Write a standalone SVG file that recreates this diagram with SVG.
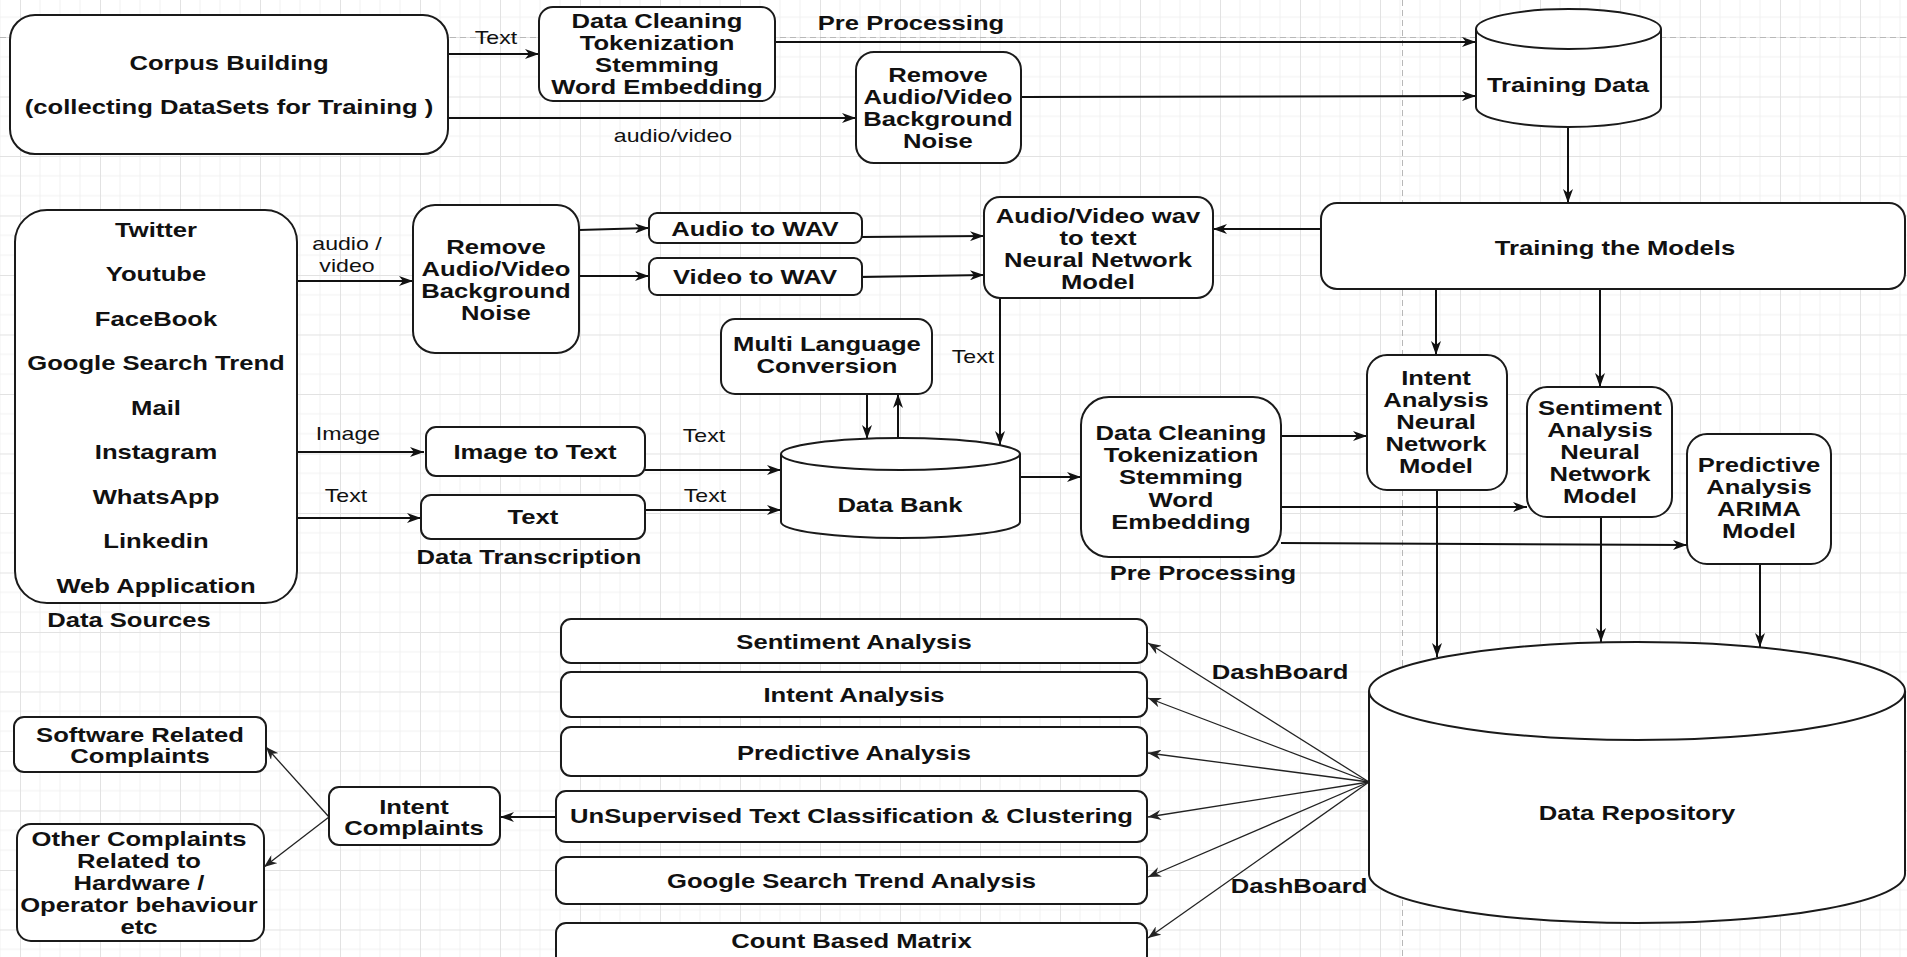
<svg xmlns="http://www.w3.org/2000/svg" width="1907" height="957" viewBox="0 0 1907 957">
<defs>
<style>
.bx{fill:#fff;stroke:#1a1a1a;stroke-width:2}
.ln{fill:none;stroke:#111;stroke-width:2;marker-end:url(#a)}
.ld{fill:none;stroke:#222;stroke-width:1.3;marker-end:url(#b)}
.t{font-family:"Liberation Sans",Arial,sans-serif;font-weight:bold;font-size:20.5px;text-anchor:middle;fill:#111}
.l{font-family:"Liberation Sans",Arial,sans-serif;font-size:18.5px;text-anchor:middle;fill:#111}
</style>
<marker id="a" markerWidth="14" markerHeight="10" refX="14" refY="5" orient="auto" markerUnits="userSpaceOnUse"><path d="M0,0 L14,5 L0,10 L4,5 z" fill="#111"/></marker>
<marker id="b" markerWidth="13" markerHeight="10" refX="13" refY="5" orient="auto" markerUnits="userSpaceOnUse"><path d="M0,0 L13,5 L0,10 L4,5 z" fill="#222"/></marker>
<pattern id="g" x="20" y="37" width="80" height="59.5" patternUnits="userSpaceOnUse">
<path d="M20,0V59.5M40,0V59.5M60,0V59.5M0,19.83H80M0,39.67H80" stroke="#f1f1f1" stroke-width="1" fill="none"/>
<path d="M0.5,0V59.5M0,0.5H80" stroke="#e2e2e2" stroke-width="1" fill="none"/>
</pattern>
</defs>
<rect width="1907" height="957" fill="#fff"/>
<rect width="1907" height="957" fill="url(#g)"/>
<path d="M0,37.5H1907M1402.5,0V957" stroke="#b8b8b8" stroke-width="1" stroke-dasharray="6 4" fill="none"/>

<g id="connectors">
<path class="ln" d="M448,54H539"/>
<path class="ln" d="M775,42H1476"/>
<path class="ln" d="M448,118H856"/>
<path class="ln" d="M1021,97L1476,96"/>
<path class="ln" d="M1568,127V203"/>
<path class="ln" d="M1321,229H1213"/>
<path class="ln" d="M297,281H413"/>
<path class="ln" d="M579,230L649,228"/>
<path class="ln" d="M579,276H649"/>
<path class="ln" d="M862,237L984,236"/>
<path class="ln" d="M862,277L984,275"/>
<path class="ln" d="M867,394V439"/>
<path class="ln" d="M898,439V394"/>
<path class="ln" d="M1000,298V445"/>
<path class="ln" d="M297,452H424"/>
<path class="ln" d="M645,470H781"/>
<path class="ln" d="M297,518H421"/>
<path class="ln" d="M645,510H781"/>
<path class="ln" d="M1020,477H1081"/>
<path class="ln" d="M1436,289V355"/>
<path class="ln" d="M1600,289V387"/>
<path class="ln" d="M1281,436H1367"/>
<path class="ln" d="M1281,507H1527"/>
<path class="ln" d="M1281,543L1687,545"/>
<path class="ln" d="M1437,490V657"/>
<path class="ln" d="M1601,517V642"/>
<path class="ln" d="M1760,564V647"/>
<path class="ld" d="M1369,782L1148,643"/>
<path class="ld" d="M1369,782L1148,698"/>
<path class="ld" d="M1369,782L1148,753"/>
<path class="ld" d="M1369,782L1148,817"/>
<path class="ld" d="M1369,782L1148,877"/>
<path class="ld" d="M1369,782L1148,938"/>
<path class="ln" d="M556,817H500"/>
<path class="ld" d="M329,817L266,747"/>
<path class="ld" d="M329,817L264,867"/>
<text class="l" transform="scale(1.25 1)" x="396.8" y="44">Text</text>
<text class="t" transform="scale(1.25 1)" x="728.8" y="30">Pre Processing</text>
<text class="l" transform="scale(1.25 1)" x="538.4" y="142">audio/video</text>
<text class="l" transform="scale(1.25 1)" x="277.6" y="250">audio /</text>
<text class="l" transform="scale(1.25 1)" x="277.6" y="272">video</text>
<text class="l" transform="scale(1.25 1)" x="778.4" y="363">Text</text>
<text class="l" transform="scale(1.25 1)" x="278.4" y="440">Image</text>
<text class="l" transform="scale(1.25 1)" x="563.2" y="442">Text</text>
<text class="l" transform="scale(1.25 1)" x="276.8" y="502">Text</text>
<text class="l" transform="scale(1.25 1)" x="564" y="502">Text</text>
<text class="t" transform="scale(1.25 1)" x="1024" y="679">DashBoard</text>
<text class="t" transform="scale(1.25 1)" x="1039.2" y="893">DashBoard</text>
</g>

<g id="corpus">
<rect class="bx" x="10" y="15" width="438" height="139" rx="25"/>
<text class="t" transform="scale(1.25 1)" x="183.2" y="70">Corpus Building</text>
<text class="t" transform="scale(1.25 1)" x="183.2" y="114">(collecting DataSets for Training )</text>
</g>
<g id="clean-top">
<rect class="bx" x="539" y="7" width="236" height="94" rx="14"/>
<text class="t" transform="scale(1.25 1)" x="525.6" y="28">Data Cleaning</text>
<text class="t" transform="scale(1.25 1)" x="525.6" y="50">Tokenization</text>
<text class="t" transform="scale(1.25 1)" x="525.6" y="72">Stemming</text>
<text class="t" transform="scale(1.25 1)" x="525.6" y="94">Word Embedding</text>
</g>
<g id="noise-top">
<rect class="bx" x="856" y="52" width="165" height="111" rx="18"/>
<text class="t" transform="scale(1.25 1)" x="750.4" y="82">Remove</text>
<text class="t" transform="scale(1.25 1)" x="750.4" y="104">Audio/Video</text>
<text class="t" transform="scale(1.25 1)" x="750.4" y="126">Background</text>
<text class="t" transform="scale(1.25 1)" x="750.4" y="148">Noise</text>
</g>
<g id="training-data">
<path class="bx" d="M1476,29V107A92.5,20 0 0 0 1661,107V29A92.5,20 0 0 0 1476,29Z"/>
<path d="M1476,29A92.5,20 0 0 0 1661,29" fill="none" stroke="#1a1a1a" stroke-width="2"/>
<text class="t" transform="scale(1.25 1)" x="1254.4" y="92">Training Data</text>
</g>
<g id="training-models">
<rect class="bx" x="1321" y="203" width="584" height="86" rx="16"/>
<text class="t" transform="scale(1.25 1)" x="1292" y="255">Training the Models</text>
</g>
<g id="av-model">
<rect class="bx" x="984" y="197" width="229" height="101" rx="16"/>
<text class="t" transform="scale(1.25 1)" x="878.4" y="223">Audio/Video wav</text>
<text class="t" transform="scale(1.25 1)" x="878.4" y="245">to text</text>
<text class="t" transform="scale(1.25 1)" x="878.4" y="267">Neural Network</text>
<text class="t" transform="scale(1.25 1)" x="878.4" y="289">Model</text>
</g>
<g id="data-sources">
<rect class="bx" x="15" y="210" width="282" height="393" rx="32"/>
<text class="t" transform="scale(1.25 1)" x="124.8" y="237">Twitter</text>
<text class="t" transform="scale(1.25 1)" x="124.8" y="281.5">Youtube</text>
<text class="t" transform="scale(1.25 1)" x="124.8" y="326">FaceBook</text>
<text class="t" transform="scale(1.25 1)" x="124.8" y="370.5">Google Search Trend</text>
<text class="t" transform="scale(1.25 1)" x="124.8" y="415">Mail</text>
<text class="t" transform="scale(1.25 1)" x="124.8" y="459.5">Instagram</text>
<text class="t" transform="scale(1.25 1)" x="124.8" y="504">WhatsApp</text>
<text class="t" transform="scale(1.25 1)" x="124.8" y="548.5">Linkedin</text>
<text class="t" transform="scale(1.25 1)" x="124.8" y="593">Web Application</text>
<text class="t" transform="scale(1.25 1)" x="103.2" y="627">Data Sources</text>
</g>
<g id="noise-mid">
<rect class="bx" x="413" y="205" width="166" height="148" rx="22"/>
<text class="t" transform="scale(1.25 1)" x="396.8" y="254">Remove</text>
<text class="t" transform="scale(1.25 1)" x="396.8" y="276">Audio/Video</text>
<text class="t" transform="scale(1.25 1)" x="396.8" y="298">Background</text>
<text class="t" transform="scale(1.25 1)" x="396.8" y="320">Noise</text>
</g>
<g id="audio-wav">
<rect class="bx" x="649" y="213" width="213" height="30" rx="8"/>
<text class="t" transform="scale(1.25 1)" x="604" y="236">Audio to WAV</text>
</g>
<g id="video-wav">
<rect class="bx" x="649" y="258" width="213" height="37" rx="8"/>
<text class="t" transform="scale(1.25 1)" x="604" y="284">Video to WAV</text>
</g>
<g id="multi-lang">
<rect class="bx" x="721" y="319" width="211" height="75" rx="14"/>
<text class="t" transform="scale(1.25 1)" x="661.6" y="351">Multi Language</text>
<text class="t" transform="scale(1.25 1)" x="661.6" y="373">Conversion</text>
</g>
<g id="data-bank">
<path class="bx" d="M781,454V522A119.5,16 0 0 0 1020,522V454A119.5,16 0 0 0 781,454Z"/>
<path d="M781,454A119.5,16 0 0 0 1020,454" fill="none" stroke="#1a1a1a" stroke-width="2"/>
<text class="t" transform="scale(1.25 1)" x="720" y="512">Data Bank</text>
</g>
<g id="image-text">
<rect class="bx" x="426" y="427" width="219" height="49" rx="10"/>
<text class="t" transform="scale(1.25 1)" x="428" y="459">Image to Text</text>
</g>
<g id="text-box">
<rect class="bx" x="421" y="495" width="224" height="44" rx="10"/>
<text class="t" transform="scale(1.25 1)" x="426.4" y="524">Text</text>
<text class="t" transform="scale(1.25 1)" x="423.2" y="564">Data Transcription</text>
</g>
<g id="clean-mid">
<rect class="bx" x="1081" y="397" width="200" height="160" rx="28"/>
<text class="t" transform="scale(1.25 1)" x="944.8" y="440">Data Cleaning</text>
<text class="t" transform="scale(1.25 1)" x="944.8" y="462">Tokenization</text>
<text class="t" transform="scale(1.25 1)" x="944.8" y="484">Stemming</text>
<text class="t" transform="scale(1.25 1)" x="944.8" y="507">Word</text>
<text class="t" transform="scale(1.25 1)" x="944.8" y="529">Embedding</text>
<text class="t" transform="scale(1.25 1)" x="962.4" y="580">Pre Processing</text>
</g>
<g id="intent-model">
<rect class="bx" x="1367" y="355" width="140" height="135" rx="20"/>
<text class="t" transform="scale(1.25 1)" x="1148.8" y="385">Intent</text>
<text class="t" transform="scale(1.25 1)" x="1148.8" y="407">Analysis</text>
<text class="t" transform="scale(1.25 1)" x="1148.8" y="429">Neural</text>
<text class="t" transform="scale(1.25 1)" x="1148.8" y="451">Network</text>
<text class="t" transform="scale(1.25 1)" x="1148.8" y="473">Model</text>
</g>
<g id="sentiment-model">
<rect class="bx" x="1527" y="387" width="145" height="130" rx="20"/>
<text class="t" transform="scale(1.25 1)" x="1280" y="415">Sentiment</text>
<text class="t" transform="scale(1.25 1)" x="1280" y="437">Analysis</text>
<text class="t" transform="scale(1.25 1)" x="1280" y="459">Neural</text>
<text class="t" transform="scale(1.25 1)" x="1280" y="481">Network</text>
<text class="t" transform="scale(1.25 1)" x="1280" y="503">Model</text>
</g>
<g id="predictive-model">
<rect class="bx" x="1687" y="434" width="144" height="130" rx="20"/>
<text class="t" transform="scale(1.25 1)" x="1407.2" y="472">Predictive</text>
<text class="t" transform="scale(1.25 1)" x="1407.2" y="494">Analysis</text>
<text class="t" transform="scale(1.25 1)" x="1407.2" y="516">ARIMA</text>
<text class="t" transform="scale(1.25 1)" x="1407.2" y="538">Model</text>
</g>
<g id="data-repository">
<path class="bx" d="M1369,691V874A268,49 0 0 0 1905,874V691A268,49 0 0 0 1369,691Z"/>
<path d="M1369,691A268,49 0 0 0 1905,691" fill="none" stroke="#1a1a1a" stroke-width="2"/>
<text class="t" transform="scale(1.25 1)" x="1309.6" y="820">Data Repository</text>
</g>
<g id="dash-sentiment">
<rect class="bx" x="561" y="619" width="586" height="44" rx="10"/>
<text class="t" transform="scale(1.25 1)" x="683.2" y="649">Sentiment Analysis</text>
</g>
<g id="dash-intent">
<rect class="bx" x="561" y="672" width="586" height="45" rx="10"/>
<text class="t" transform="scale(1.25 1)" x="683.2" y="702">Intent Analysis</text>
</g>
<g id="dash-predictive">
<rect class="bx" x="561" y="727" width="586" height="49" rx="10"/>
<text class="t" transform="scale(1.25 1)" x="683.2" y="760">Predictive Analysis</text>
</g>
<g id="dash-unsupervised">
<rect class="bx" x="556" y="791" width="591" height="51" rx="10"/>
<text class="t" transform="scale(1.25 1)" x="681.2" y="823">UnSupervised Text Classification &amp; Clustering</text>
</g>
<g id="dash-google">
<rect class="bx" x="556" y="857" width="591" height="47" rx="10"/>
<text class="t" transform="scale(1.25 1)" x="681.2" y="888">Google Search Trend Analysis</text>
</g>
<g id="dash-count">
<rect class="bx" x="556" y="923" width="591" height="50" rx="10"/>
<text class="t" transform="scale(1.25 1)" x="681.2" y="948">Count Based Matrix</text>
</g>
<g id="intent-complaints">
<rect class="bx" x="329" y="787" width="171" height="58" rx="10"/>
<text class="t" transform="scale(1.25 1)" x="331.2" y="814">Intent</text>
<text class="t" transform="scale(1.25 1)" x="331.2" y="835">Complaints</text>
</g>
<g id="software-complaints">
<rect class="bx" x="14" y="717" width="252" height="55" rx="10"/>
<text class="t" transform="scale(1.25 1)" x="112" y="742">Software Related</text>
<text class="t" transform="scale(1.25 1)" x="112" y="763">Complaints</text>
</g>
<g id="other-complaints">
<rect class="bx" x="17" y="824" width="247" height="117" rx="14"/>
<text class="t" transform="scale(1.25 1)" x="111.2" y="846">Other Complaints</text>
<text class="t" transform="scale(1.25 1)" x="111.2" y="868">Related to</text>
<text class="t" transform="scale(1.25 1)" x="111.2" y="890">Hardware /</text>
<text class="t" transform="scale(1.25 1)" x="111.2" y="912">Operator behaviour</text>
<text class="t" transform="scale(1.25 1)" x="111.2" y="934">etc</text>
</g>
</svg>
